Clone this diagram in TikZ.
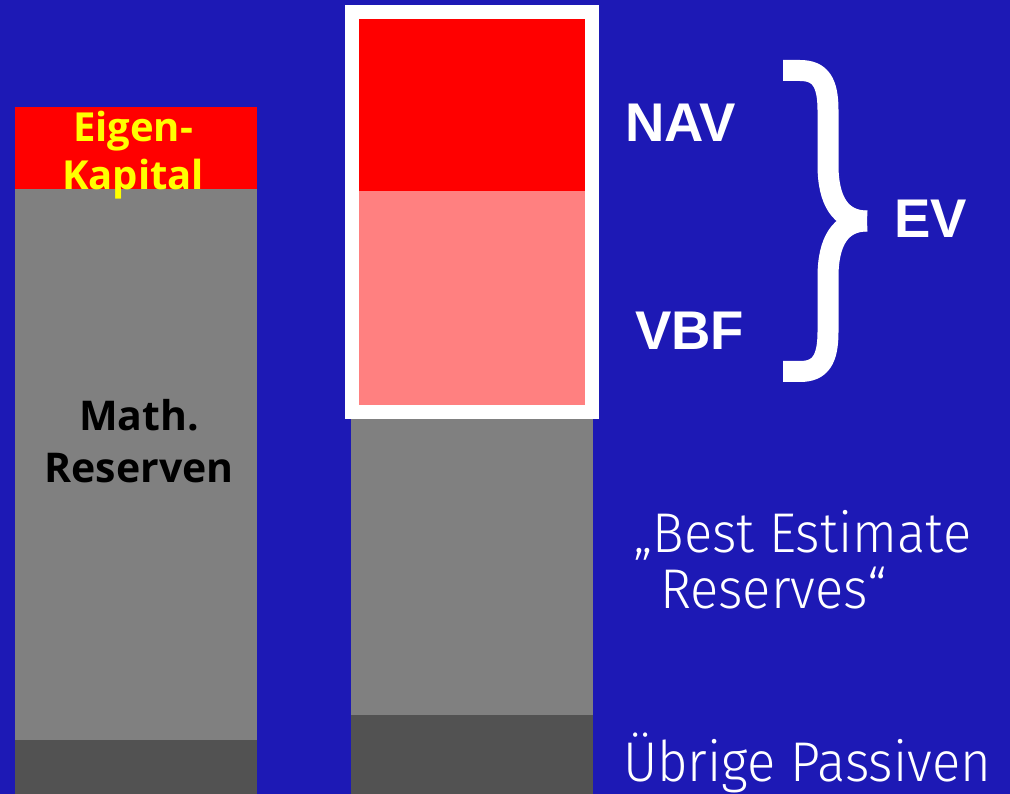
\documentclass[tikz,border=0pt]{standalone}
\usepackage{fontspec}
\setmainfont{Liberation Sans}
\newfontfamily\capsfont{Liberation Sans}[BoldFont={* Bold}]
\newfontfamily\humanbold{Open Sans}[UprightFont={* Bold}]
\newfontfamily\lightfont{Fira Sans Light}[FakeStretch=0.94]
\definecolor{slidebg}{RGB}{29,25,181}
\definecolor{navred}{RGB}{255,0,0}
\definecolor{vbfpink}{RGB}{255,128,128}
\definecolor{resgray}{RGB}{128,128,128}
\definecolor{othergray}{RGB}{82,82,82}
\definecolor{eqyellow}{RGB}{255,255,0}
\tikzset{
  block/.style={draw=none},
  lbl/.style={inner sep=0pt, outer sep=0pt},
  boldlbl/.style={lbl, font=\humanbold\fontsize{40}{48}\selectfont},
  acro/.style={lbl, anchor=base west, text=white, font=\capsfont\bfseries\fontsize{54.5}{60}\selectfont},
  lightlbl/.style={lbl, anchor=base west, text=white, font=\lightfont\fontsize{56}{57}\selectfont},
  bracestroke/.style={draw=white, line width=21pt, line cap=butt, line join=round}
}
\begin{document}
\begin{tikzpicture}[x=1pt,y=-1pt]
  % canvas
  \useasboundingbox (0,0) rectangle (1010,794);
  \fill[slidebg] (0,0) rectangle (1010,794);

  % left column: statutory balance sheet
  \fill[block, navred]     (15,107) rectangle (257,189);
  \fill[block, resgray]    (15,189) rectangle (257,740);
  \fill[block, othergray]  (15,740) rectangle (257,794);
  \node[boldlbl, anchor=base, text=eqyellow] (eigen)   at (133,142) {Eigen-};
  \node[boldlbl, anchor=base, text=eqyellow] (kapital) at (133,190) {Kapital};
  \node[boldlbl, anchor=base, text=black, font=\humanbold\fontsize{41}{50}\selectfont] (math) at (139,431) {Math.};
  \node[boldlbl, anchor=base, text=black, font=\humanbold\fontsize{41}{50}\selectfont] (reserven) at (139,482) {Reserven};

  % right column: market-consistent balance sheet
  \fill[block, othergray]  (351,715) rectangle (593,794);
  \fill[block, resgray]    (351,412) rectangle (593,715);
  \fill[block, navred]     (352,12) rectangle (592,191);
  \fill[block, vbfpink]    (352,191) rectangle (592,412.5);
  \draw[white, line width=14pt] (352,12) rectangle (592,412.5);

  % labels of the components
  \node[acro] (nav) at (625,142) {NAV};
  \node[acro] (vbf) at (635,350) {VBF};
  \node[acro] (ev)  at (894,238) {EV};

  % curly brace grouping NAV and VBF
  \coordinate (btip) at (867,221);
  \draw[bracestroke] (783,70.5) -- (800,70.5)
    .. controls (820,70.5) and (828,82) .. (828,110) -- (828,165)
    .. controls (828,200) and (840,221) .. (btip);
  \draw[bracestroke] (783,371.5) -- (800,371.5)
    .. controls (820,371.5) and (828,360) .. (828,332) -- (828,277)
    .. controls (828,242) and (840,221) .. (btip);

  % descriptive labels
  \node[lightlbl] (best)    at (633,552) {„Best Estimate};
  \node[lightlbl] (bestres) at (660,608) {Reserves“};
  \node[lightlbl] (uebrige) at (623,781) {Übrige Passiven};
\end{tikzpicture}
\end{document}
